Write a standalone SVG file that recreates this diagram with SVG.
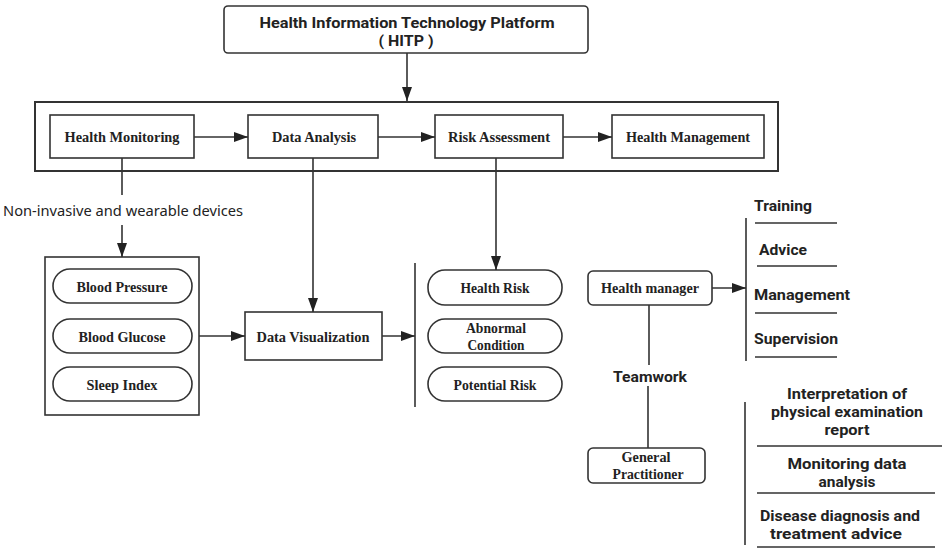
<svg xmlns="http://www.w3.org/2000/svg" width="944" height="551" viewBox="0 0 944 551">
<defs>
<marker id="arr" markerUnits="userSpaceOnUse" markerWidth="14" markerHeight="10" refX="14" refY="5" orient="auto">
<path d="M0,0 L14,5 L0,10 z" fill="#222"/>
</marker>
<style>
.box{fill:#fff;stroke:#333;stroke-width:1.6}
.outer{fill:none;stroke:#333;stroke-width:2}
.ln{fill:none;stroke:#333;stroke-width:1.6}
.ar{fill:none;stroke:#333;stroke-width:1.6;marker-end:url(#arr)}
.sf{font-family:"Liberation Serif","Times New Roman",serif;font-weight:bold;font-size:14.5px;fill:#222;text-anchor:middle}
.ss{font-family:Roboto,"Liberation Sans",Arial,sans-serif;font-weight:bold;font-size:14.5px;fill:#222}
.mid{text-anchor:middle}
.reg{font-family:"Noto Sans","Open Sans","DejaVu Sans",sans-serif;font-size:15px;fill:#222}
</style>
</defs>
<rect width="944" height="551" fill="#fff"/>

<g id="outer-frame"><rect class="outer" x="35" y="102" width="743" height="69"/></g>

<g id="hitp">
<rect class="box" x="224" y="6" width="364" height="47" rx="4"/>
<text class="ss mid" x="407" y="28" textLength="295" lengthAdjust="spacingAndGlyphs">Health Information Technology Platform</text>
<text class="ss mid" x="406" y="46" textLength="55" lengthAdjust="spacingAndGlyphs">( HITP )</text>
</g>

<g id="health-monitoring">
<rect class="box" x="50" y="115" width="144" height="43"/>
<text class="sf" x="122" y="142" textLength="115" lengthAdjust="spacingAndGlyphs">Health Monitoring</text>
</g>
<g id="data-analysis">
<rect class="box" x="248" y="115" width="130" height="43"/>
<text class="sf" x="314" y="142" textLength="84" lengthAdjust="spacingAndGlyphs">Data Analysis</text>
</g>
<g id="risk-assessment">
<rect class="box" x="435" y="115" width="128" height="43"/>
<text class="sf" x="499" y="142" textLength="102" lengthAdjust="spacingAndGlyphs">Risk Assessment</text>
</g>
<g id="health-management">
<rect class="box" x="612" y="115" width="152" height="43"/>
<text class="sf" x="688" y="142" textLength="124" lengthAdjust="spacingAndGlyphs">Health Management</text>
</g>

<g id="devices-label">
<text class="reg" x="3" y="216" textLength="240" lengthAdjust="spacingAndGlyphs">Non-invasive and wearable devices</text>
</g>

<g id="indicators">
<rect class="box" x="45" y="257" width="154" height="158"/>
<g id="blood-pressure">
<rect class="box" x="53" y="269" width="139" height="34" rx="17"/>
<text class="sf" x="122" y="292" textLength="91" lengthAdjust="spacingAndGlyphs">Blood Pressure</text>
</g>
<g id="blood-glucose">
<rect class="box" x="53" y="319" width="139" height="34" rx="17"/>
<text class="sf" x="122" y="342" textLength="87" lengthAdjust="spacingAndGlyphs">Blood Glucose</text>
</g>
<g id="sleep-index">
<rect class="box" x="53" y="367" width="139" height="34" rx="17"/>
<text class="sf" x="122" y="390" textLength="71" lengthAdjust="spacingAndGlyphs">Sleep Index</text>
</g>
</g>

<g id="data-visualization">
<rect class="box" x="245" y="312" width="137" height="48"/>
<text class="sf" x="313" y="342" textLength="113" lengthAdjust="spacingAndGlyphs">Data Visualization</text>
</g>

<g id="health-risk">
<rect class="box" x="428" y="270" width="134" height="35" rx="17"/>
<text class="sf" x="495" y="293" textLength="69" lengthAdjust="spacingAndGlyphs">Health Risk</text>
</g>
<g id="abnormal-condition">
<rect class="box" x="428" y="319" width="134" height="34" rx="17"/>
<text class="sf" x="496" y="333" textLength="60" lengthAdjust="spacingAndGlyphs">Abnormal</text>
<text class="sf" x="496" y="350" textLength="57" lengthAdjust="spacingAndGlyphs">Condition</text>
</g>
<g id="potential-risk">
<rect class="box" x="428" y="367" width="134" height="34" rx="17"/>
<text class="sf" x="495" y="390" textLength="83" lengthAdjust="spacingAndGlyphs">Potential Risk</text>
</g>

<g id="health-manager">
<rect class="box" x="588" y="271" width="124" height="34" rx="5"/>
<text class="sf" x="650" y="293" textLength="98" lengthAdjust="spacingAndGlyphs">Health manager</text>
</g>

<g id="teamwork-label">
<text class="ss mid" x="650" y="382" textLength="74" lengthAdjust="spacingAndGlyphs">Teamwork</text>
</g>

<g id="general-practitioner">
<rect class="box" x="588" y="448" width="117" height="35" rx="5"/>
<text class="sf" x="646" y="462" textLength="49" lengthAdjust="spacingAndGlyphs">General</text>
<text class="sf" x="648" y="479" textLength="71" lengthAdjust="spacingAndGlyphs">Practitioner</text>
</g>

<g id="manager-tasks">
<path class="ln" d="M746,218 V361 M755,223 H837 M757,266 H837 M755,313 H837 M755,357 H837"/>
<text class="ss" x="754" y="211" textLength="58" lengthAdjust="spacingAndGlyphs">Training</text>
<text class="ss" x="759" y="255" textLength="48" lengthAdjust="spacingAndGlyphs">Advice</text>
<text class="ss" x="754" y="300" textLength="96" lengthAdjust="spacingAndGlyphs">Management</text>
<text class="ss" x="754" y="344" textLength="84" lengthAdjust="spacingAndGlyphs">Supervision</text>
</g>

<g id="practitioner-tasks">
<path class="ln" d="M745,402 V545 M757,446 H942 M757,493 H935 M757,547 H935"/>
<text class="ss mid" x="847" y="399" textLength="120" lengthAdjust="spacingAndGlyphs">Interpretation of</text>
<text class="ss mid" x="847" y="417" textLength="152" lengthAdjust="spacingAndGlyphs">physical examination</text>
<text class="ss mid" x="847" y="435" textLength="45" lengthAdjust="spacingAndGlyphs">report</text>
<text class="ss mid" x="847" y="469" textLength="119" lengthAdjust="spacingAndGlyphs">Monitoring data</text>
<text class="ss mid" x="847" y="487" textLength="57" lengthAdjust="spacingAndGlyphs">analysis</text>
<text class="ss mid" x="840" y="521" textLength="160" lengthAdjust="spacingAndGlyphs">Disease diagnosis and</text>
<text class="ss mid" x="836" y="539" textLength="132" lengthAdjust="spacingAndGlyphs">treatment advice</text>
</g>

<g id="connectors">
<path class="ar" d="M407,53 V101"/>
<path class="ar" d="M194,137 H248"/>
<path class="ar" d="M378,137 H435"/>
<path class="ar" d="M563,137 H612"/>
<path class="ln" d="M122,158 V195"/>
<path class="ar" d="M122,225 V257"/>
<path class="ar" d="M313,158 V312"/>
<path class="ar" d="M496,158 V270"/>
<path class="ar" d="M199,336 H245"/>
<path class="ar" d="M382,336 H415"/>
<path class="ln" d="M415,263 V407"/>
<path class="ar" d="M712,288 H746"/>
<path class="ln" d="M649,305 V365"/>
<path class="ln" d="M648,386 V448"/>
</g>
</svg>
